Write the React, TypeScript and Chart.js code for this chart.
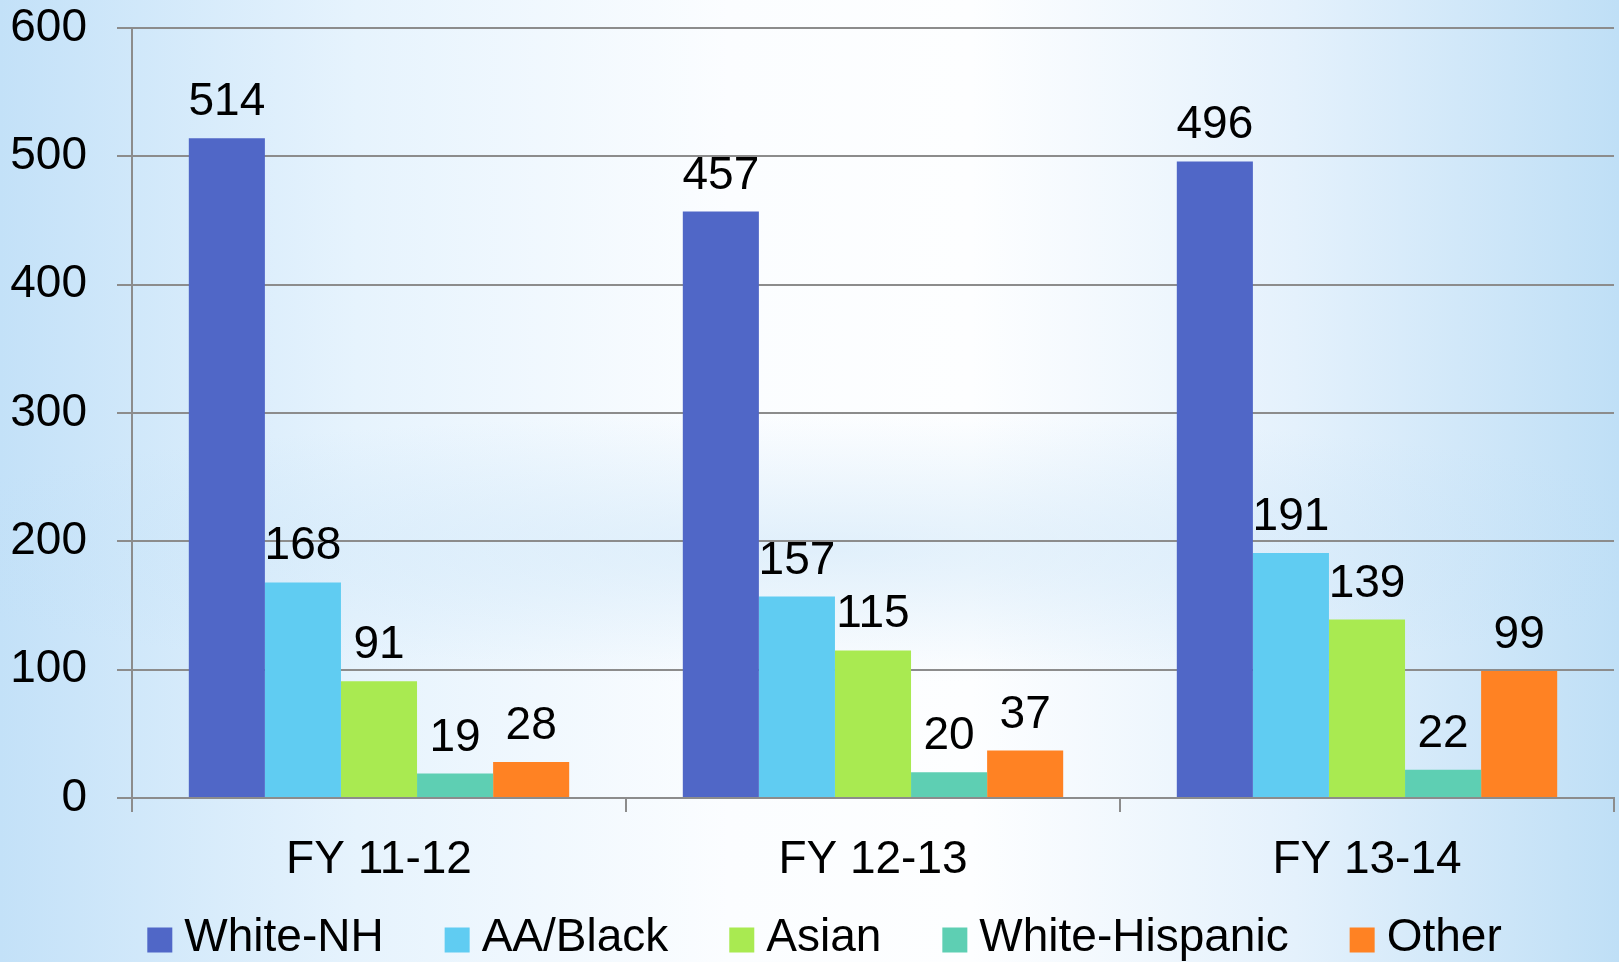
import React, { useEffect, useRef } from "react";
import { Chart, registerables } from "chart.js";

Chart.register(...registerables);

const categories = ["FY 11-12", "FY 12-13", "FY 13-14"];
const seriesNames = ["White-NH", "AA/Black", "Asian", "White-Hispanic", "Other"];
const whiteNH = [514, 457, 496];
const aaBlack = [168, 157, 191];
const asian = [91, 115, 139];
const whiteHispanic = [19, 20, 22];
const other = [28, 37, 99];
const seriesColors = ["#5067C7", "#60CCF2", "#A9EA51", "#5ECFB3", "#FF8223"];
const yMin = 0;
const yMax = 600;
const yStep = 100;

const FONT = "'Liberation Sans', Arial, sans-serif";
const W = 1619;
const H = 962;

const dataLabelPlugin = {
  id: "dataLabels",
  afterDatasetsDraw(chart: any) {
    const ctx = chart.ctx;
    ctx.save();
    ctx.font = `46px ${FONT}`;
    ctx.fillStyle = "#000";
    ctx.textAlign = "center";
    ctx.textBaseline = "alphabetic";
    chart.data.datasets.forEach((ds: any, di: number) => {
      const meta = chart.getDatasetMeta(di);
      meta.data.forEach((bar: any, i: number) => {
        ctx.fillText(String(ds.data[i]), bar.x, bar.y - 23);
      });
    });
    ctx.restore();
  },
};

const legendPlugin = {
  id: "customLegend",
  afterDraw(chart: any) {
    const ctx = chart.ctx;
    ctx.save();
    ctx.font = `46px ${FONT}`;
    const box = 25;
    const gapText = 12;
    const gapItem = 61;
    const items = chart.data.datasets.map((ds: any) => ({
      text: ds.label,
      color: ds.backgroundColor,
      w: ctx.measureText(ds.label).width,
    }));
    let total = 0;
    items.forEach((it: any, i: number) => {
      total += box + gapText + it.w + (i < items.length - 1 ? gapItem : 0);
    });
    let x = chart.width / 2 + 15 - total / 2;
    const cy = chart.height - 24;
    ctx.textBaseline = "middle";
    ctx.textAlign = "left";
    items.forEach((it: any) => {
      ctx.fillStyle = it.color;
      ctx.fillRect(x, cy - box / 2 + 2, box, box);
      x += box + gapText;
      ctx.fillStyle = "#000";
      ctx.fillText(it.text, x, cy);
      x += it.w + gapItem;
    });
    ctx.restore();
  },
};

export default function App() {
  const canvasRef = useRef<HTMLCanvasElement | null>(null);

  useEffect(() => {
    if (!canvasRef.current) return;
    const values = [whiteNH, aaBlack, asian, whiteHispanic, other];
    const chart = new Chart(canvasRef.current, {
      type: "bar",
      data: {
        labels: categories,
        datasets: seriesNames.map((name, i) => ({
          label: name,
          data: values[i],
          backgroundColor: seriesColors[i],
          borderWidth: 0,
          categoryPercentage: 0.77,
          barPercentage: 1,
        })),
      },
      options: {
        animation: false,
        responsive: true,
        maintainAspectRatio: false,
        layout: { padding: { top: 28, right: 5, left: 0, bottom: 0 } },
        plugins: {
          legend: { display: false },
          tooltip: { enabled: false },
        },
        scales: {
          x: {
            grid: {
              offset: true,
              drawOnChartArea: false,
              drawTicks: true,
              tickLength: 14,
              color: "#8c8c8c",
              lineWidth: 2,
            },
            border: { color: "#8c8c8c", width: 2 },
            ticks: {
              color: "#000",
              font: { family: FONT, size: 46 },
              padding: 21,
            },
            afterFit(scale: any) {
              scale.height = 164;
            },
          },
          y: {
            min: yMin,
            max: yMax,
            ticks: {
              stepSize: yStep,
              color: "#000",
              font: { family: FONT, size: 46 },
              padding: 30,
            },
            grid: {
              color: "#8c8c8c",
              lineWidth: 2,
              tickLength: 15,
            },
            border: { color: "#8c8c8c", width: 2 },
            afterFit(scale: any) {
              scale.width = 132;
              scale.paddingTop = 0;
              scale.paddingBottom = 0;
            },
          },
        },
      },
      plugins: [dataLabelPlugin, legendPlugin],
    });
    return () => chart.destroy();
  }, []);

  return (
    <div
      style={{
        position: "fixed",
        left: 0,
        top: 0,
        width: W,
        height: H,
        background:
          "radial-gradient(ellipse 60% 14% at 50% 57%, rgba(190,222,246,0.45) 0%, rgba(190,222,246,0) 100%), linear-gradient(to right, #c3e1f8 0%, #e6f3fd 22%, #fbfdff 45%, #fdfeff 60%, #e4f1fc 80%, #bfdff6 100%)",
      }}
    >
      <canvas ref={canvasRef} />
    </div>
  );
}
